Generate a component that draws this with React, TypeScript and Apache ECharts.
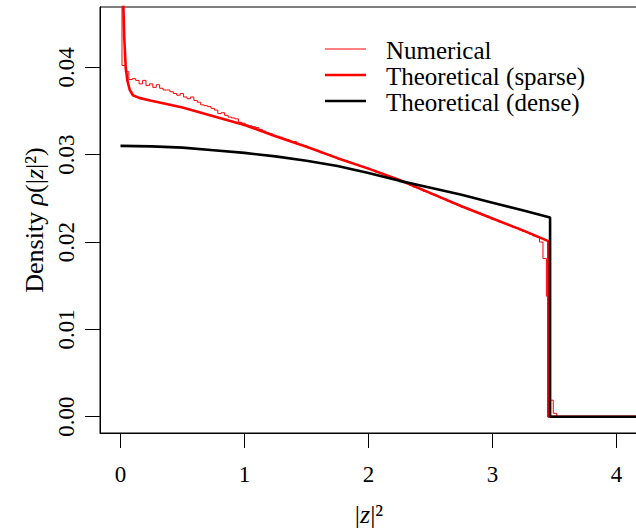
import React, { useEffect, useRef } from "react";
import * as echarts from "echarts";

// ---- data ----
const xTicks = [0, 1, 2, 3, 4];
const yTicks = [0, 0.01, 0.02, 0.03, 0.04];

// Theoretical (dense)
const denseX = [0, 0.25, 0.5, 0.75, 1.0, 1.25, 1.5, 1.75, 2.0, 2.25, 2.5, 2.75, 3.0, 3.25, 3.464, 3.464, 4.3];
const denseY = [0.031, 0.03095, 0.0308, 0.0305, 0.0302, 0.0298, 0.0293, 0.0287, 0.0279, 0.0270, 0.0262, 0.0254, 0.0245, 0.0236, 0.0228, 0, 0];

// Theoretical (sparse)
const sparseX = [0.012, 0.018, 0.023, 0.03, 0.042, 0.055, 0.075, 0.1, 0.15, 0.24, 0.5, 0.75, 1.0, 1.25, 1.5, 1.75, 2.0, 2.25, 2.5, 2.75, 3.0, 3.25, 3.45, 3.45, 4.3];
const sparseY = [0.09, 0.06, 0.047, 0.0435, 0.04, 0.0385, 0.0374, 0.0368, 0.0365, 0.0362, 0.0354, 0.0344, 0.0334, 0.0321, 0.0309, 0.0296, 0.0284, 0.0271, 0.0256, 0.0241, 0.0227, 0.0213, 0.0201, 0, 0];

// Numerical histogram: first bin [0, numFirstEdge), then bins of width numBinWidth
const numFirstEdge = 0.012;
const numBinWidth = 0.0276;
const numEnd = 4.3;
const numValues = [
  0.09,
  0.0402, 0.0395, 0.0386, 0.0387, 0.0385, 0.0381, 0.0385, 0.0379, 0.0381, 0.0377,
  0.0380, 0.0376, 0.0374, 0.0374, 0.0372, 0.0370, 0.0368, 0.0370, 0.0366, 0.0364,
  0.0366, 0.0362, 0.0360, 0.0357, 0.0356, 0.0355, 0.0353, 0.0351, 0.0347, 0.0348,
  0.0345, 0.0343, 0.0342, 0.0341, 0.0337, 0.0336, 0.0334, 0.0333, 0.0332, 0.0331,
  0.0329, 0.0327, 0.0325, 0.0324, 0.0322, 0.0321, 0.0320, 0.0318, 0.0317, 0.0315,
  0.0315, 0.0312, 0.0311, 0.0310, 0.0308, 0.0307, 0.0306, 0.0304, 0.0302, 0.0301,
  0.0300, 0.0298, 0.0297, 0.0295, 0.0294, 0.0293, 0.0291, 0.0290, 0.0289, 0.0287,
  0.0286, 0.0285, 0.0283, 0.0282, 0.0280, 0.0279, 0.0277, 0.0276, 0.0274, 0.0273,
  0.0271, 0.0270, 0.0268, 0.0267, 0.0265, 0.0263, 0.0262, 0.0260, 0.0258, 0.0257,
  0.0255, 0.0254, 0.0252, 0.0250, 0.0249, 0.0247, 0.0245, 0.0244, 0.0242, 0.0240,
  0.0239, 0.0237, 0.0236, 0.0234, 0.0233, 0.0231, 0.0230, 0.0228, 0.0226, 0.0225,
  0.0223, 0.0222, 0.0220, 0.0219, 0.0217, 0.0216, 0.0214, 0.0212, 0.0211, 0.0209,
  0.0207, 0.0206, 0.0200, 0.0181, 0.0138, 0.0019, 0.0004, 0,
];

const seriesNames = ["Numerical", "Theoretical (sparse)", "Theoretical (dense)"];

const FONT = '"Liberation Serif", "Times New Roman", serif';

export default function App() {
  const ref = useRef<HTMLDivElement>(null);
  useEffect(() => {
    if (!ref.current) return;
    const chart = echarts.init(ref.current, undefined, { renderer: "svg" });

    const numData: number[][] = numValues.map((v, i) => [
      i === 0 ? 0 : numFirstEdge + (i - 1) * numBinWidth,
      v,
    ]);
    numData.push([numEnd, 0]);
    const sparseData = sparseX.map((x, i) => [x, sparseY[i]]);
    const denseData = denseX.map((x, i) => [x, denseY[i]]);

    const legendRows = [
      { name: seriesNames[0], color: "#ff0000", width: 1 },
      { name: seriesNames[1], color: "#ff0000", width: 2.6 },
      { name: seriesNames[2], color: "#000000", width: 2.6 },
    ];
    const legendGraphics: any[] = [];
    legendRows.forEach((r, i) => {
      const y = 49 + i * 26;
      legendGraphics.push({
        type: "line",
        shape: { x1: 325, y1: y, x2: 366, y2: y },
        style: { stroke: r.color, lineWidth: r.width },
        silent: true,
      });
      legendGraphics.push({
        type: "text",
        x: 386,
        y: y + 1,
        style: {
          text: r.name,
          font: `25px ${FONT}`,
          lineHeight: 24,
          fill: "#000",
          verticalAlign: "middle",
          align: "left",
        },
        silent: true,
      });
    });

    const richStyles = {
      n: { fontSize: 26, fontFamily: FONT, color: "#000" },
      i: { fontSize: 26, fontFamily: FONT, color: "#000", fontStyle: "italic" },
    };

    chart.setOption({
      animation: false,
      backgroundColor: "#ffffff",
      grid: {
        left: 100,
        top: 7,
        width: 538,
        height: 426,
        show: true,
        borderColor: "#000",
        borderWidth: 1,
        backgroundColor: "transparent",
        containLabel: false,
        outerBoundsMode: "none",
      },
      xAxis: {
        type: "value",
        min: -0.1653,
        max: 4.173,
        axisLine: { show: true, onZero: false, lineStyle: { color: "#000", width: 1 } },
        splitLine: { show: false },
        axisTick: {
          show: true,
          inside: false,
          length: 15,
          customValues: xTicks,
          lineStyle: { color: "#000", width: 1 },
        },
        axisLabel: {
          customValues: xTicks,
          inside: false,
          margin: 30,
          fontSize: 23,
          fontFamily: FONT,
          color: "#000",
          formatter: (v: number) => String(v),
        },
        name: "{n||}{i|z}{n||²}",
        nameLocation: "middle",
        nameGap: 68,
        nameTextStyle: { fontSize: 26, fontFamily: FONT, color: "#000", rich: richStyles },
      },
      yAxis: {
        type: "value",
        min: -0.00186,
        max: 0.0469,
        axisLine: { show: true, onZero: false, lineStyle: { color: "#000", width: 1 } },
        splitLine: { show: false },
        axisTick: {
          show: true,
          inside: false,
          length: 15,
          customValues: yTicks,
          lineStyle: { color: "#000", width: 1 },
        },
        axisLabel: {
          customValues: yTicks,
          inside: false,
          rotate: 90,
          margin: 22,
          fontSize: 23,
          fontFamily: FONT,
          color: "#000",
          formatter: (v: number) => v.toFixed(2),
        },
        name: "{n|Density }{i|ρ}{n|(|}{i|z}{n||²)}",
        nameLocation: "middle",
        nameGap: 47,
        nameRotate: 90,
        nameTextStyle: { fontSize: 26, fontFamily: FONT, color: "#000", rich: richStyles },
      },
      graphic: legendGraphics,
      series: [
        {
          name: seriesNames[0],
          type: "line",
          step: "end",
          data: numData,
          symbol: "none",
          clip: true,
          lineStyle: { color: "#ff0000", width: 1 },
          itemStyle: { color: "#ff0000" },
        },
        {
          name: seriesNames[1],
          type: "line",
          data: sparseData,
          symbol: "none",
          clip: true,
          lineStyle: { color: "#ff0000", width: 2.6 },
          itemStyle: { color: "#ff0000" },
        },
        {
          name: seriesNames[2],
          type: "line",
          data: denseData,
          symbol: "none",
          clip: true,
          lineStyle: { color: "#000000", width: 2.6 },
          itemStyle: { color: "#000000" },
        },
      ],
    });
    return () => chart.dispose();
  }, []);

  return (
    <div
      ref={ref}
      style={{ position: "fixed", left: 0, top: 0, width: 636, height: 529, background: "#fff" }}
    />
  );
}
